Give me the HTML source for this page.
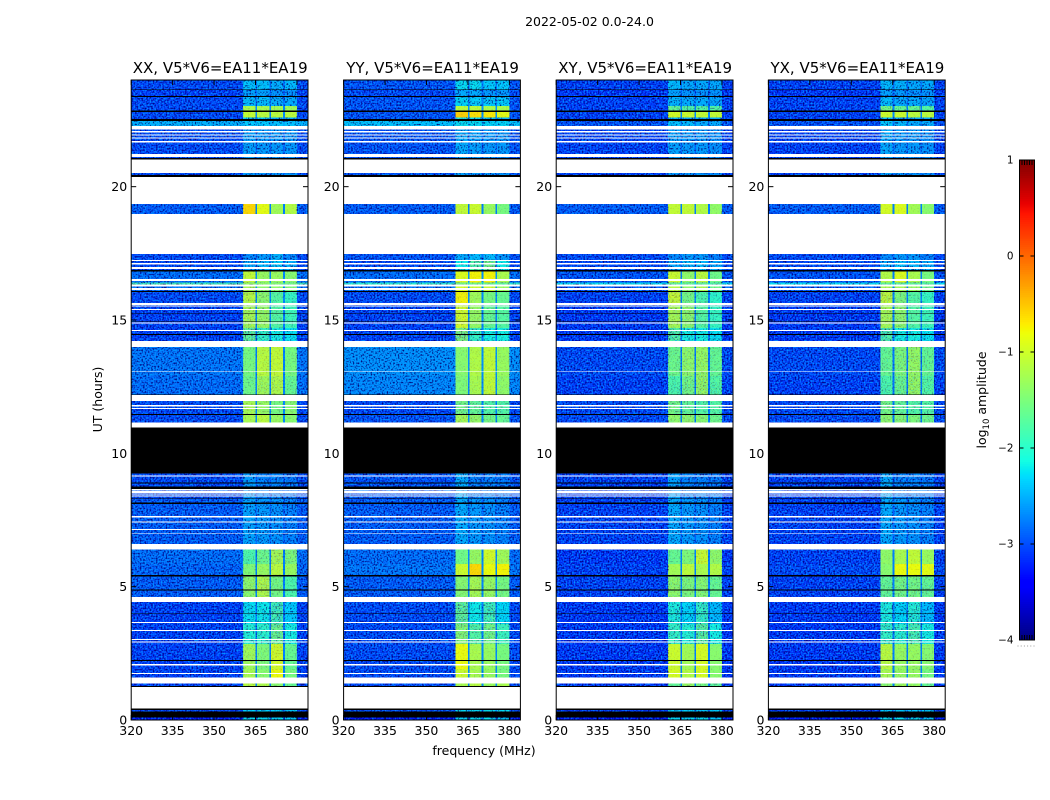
<!DOCTYPE html>
<html lang="en">
<head>
<meta charset="utf-8">
<title>2022-05-02 0.0-24.0</title>
<style>
  html, body { margin: 0; padding: 0; background: #fff; }
  svg { display: block; }
  text { font-family: "DejaVu Sans", "Liberation Sans", sans-serif; fill: #000; }
</style>
</head>
<body>
<svg id="figure" xmlns="http://www.w3.org/2000/svg" width="1050" height="800" viewBox="0 0 1050 800">
  <defs>
    <filter id="speckle" x="0" y="0" width="100%" height="100%" color-interpolation-filters="sRGB">
      <feTurbulence type="fractalNoise" baseFrequency="0.62" numOctaves="1" seed="7"/>
      <feColorMatrix type="matrix" values="0 0 0 1 0  0 0 0 1 0  0 0 0 1 0  0 0 0 1 0"/>
      <feComponentTransfer>
        <feFuncR type="table" tableValues="0 0"/>
        <feFuncG type="discrete" tableValues="0 0.62"/>
        <feFuncB type="discrete" tableValues="0.45 1"/>
        <feFuncA type="table" tableValues="0.9 0.9 0 0.9 0.9"/>
      </feComponentTransfer>
    </filter>
  </defs>
  <rect x="0" y="0" width="1050" height="800" fill="#fff"/>
  <text x="589.5" y="26" font-size="12.5" text-anchor="middle">2022-05-02 0.0-24.0</text>
  <text x="0" y="0" font-size="12.5" text-anchor="middle" transform="translate(102 399.5) rotate(-90)">UT (hours)</text>
  <text x="484" y="755" font-size="12.5" text-anchor="middle">frequency (MHz)</text>
  <text x="0" y="0" font-size="12.5" text-anchor="middle" transform="translate(986 400) rotate(-90)">log<tspan font-size="8.5" dy="3">10</tspan><tspan dy="-3"> amplitude</tspan></text>
  <g id="panels"></g>
  <g id="colorbar"></g>
</svg>
<script>
// ---- chart data (hours, MHz and log10 amplitude) ----
const panelNames = ['XX', 'YY', 'XY', 'YX'];
const titleSuffix = ', V5*V6=EA11*EA19';
const freqTicks = [320, 335, 350, 365, 380];
const hourTicks = [0, 5, 10, 15, 20];
const colorbarTicks = [-4, -3, -2, -1, 0, 1];
const channelEdges = [320, 360.5, 365, 365.6, 370, 370.6, 375, 375.6, 380, 384];

// Time boundaries of the scan blocks, latest first.
const blockEdges = [24, 23.62, 23.36, 23.025, 22.85, 22.59, 22.47, 22.275, 21.225, 20.37, 18.975, 17.25, 16.875, 16.41, 16.34, 16.05, 15.6, 14.7, 14.0, 12.9, 12.2, 11.45, 10.96, 9.25, 8.3, 6.4, 5.85, 5.4, 4.425, 3.6, 2.85, 1.9, 1.375, 0.375, 0.09, 0];

// One row per block: [background, spw1, spw2, spw3, spw4, spw gap]
const levelsXX = [
  [-3.05,-2.35,-2.35,-2.45,-2.4,-2.85],[-3.1,-2.55,-2.55,-2.65,-2.65,-2.95],[-3.05,-2.4,-2.4,-2.5,-2.5,-2.85],
  [-3.05,-1.2,-1.2,-1.25,-1.25,-2.7],[-3.05,-1.05,-1.1,-1.1,-1.1,-2.7],[-3.05,-2.25,-2.3,-2.45,-2.45,-2.85],
  [-2.45,-2.3,-2.3,-2.35,-2.35,-2.5],[-3.05,-2.55,-2.6,-2.6,-2.6,-2.9],[-3.05,-2.6,-2.65,-2.65,-2.65,-2.95],
  [-2.95,-0.6,-0.85,-1.25,-1.15,-2.75],[-3.05,-2.7,-2.6,-2.45,-2.7,-2.9],[-3.05,-2.5,-2.4,-2.3,-2.45,-2.9],
  [-2.85,-1.05,-1.3,-1.3,-1.4,-2.7],[-1.8,-1.3,-1.35,-1.4,-1.5,-1.8],[-2.85,-1.2,-1.35,-1.35,-1.45,-2.7],
  [-3.05,-1.1,-1.35,-1.7,-1.9,-2.7],[-3.1,-1.2,-1.3,-1.7,-1.85,-2.75],[-3.1,-1.6,-1.9,-2.1,-2.2,-2.8],
  [-2.8,-1.5,-1.1,-1.05,-1.5,-2.75],[-2.85,-1.55,-1.25,-1.15,-1.6,-2.75],[-3.05,-1.2,-1.3,-1.5,-1.4,-2.7],
  [-3.05,-1.2,-1.1,-1.3,-1.4,-2.7],[-3.05,-2.6,-2.75,-2.75,-2.8,-2.95],[-3.05,-2.6,-2.75,-2.75,-2.8,-2.95],
  [-2.95,-2.55,-2.6,-2.65,-2.75,-2.9],[-2.85,-1.75,-1.55,-1.2,-1.45,-2.75],[-2.9,-1.45,-1.3,-1.1,-1.3,-2.75],
  [-2.95,-1.35,-1.15,-1.5,-1.75,-2.75],[-3.1,-2.2,-2.15,-1.8,-2.3,-2.8],[-3.1,-2.0,-1.95,-1.55,-2.1,-2.8],
  [-3.1,-1.25,-1.45,-0.95,-1.6,-2.75],[-3.1,-1.2,-1.4,-0.8,-1.5,-2.75],[-3.1,-1.1,-1.15,-1.4,-1.6,-2.75],
  [-3.05,-2.3,-2.3,-2.3,-2.3,-2.85],[-3.3,-2.2,-2.2,-2.2,-2.3,-2.95]
];
const levelsYY = [
  [-3.0,-2.2,-2.2,-2.3,-2.3,-2.8],[-3.05,-2.5,-2.5,-2.6,-2.6,-2.9],[-3.0,-2.25,-2.3,-2.3,-2.3,-2.75],
  [-3.0,-1.1,-1.1,-1.2,-1.2,-2.65],[-3.0,-0.55,-0.65,-0.7,-0.85,-2.65],[-3.0,-2.05,-2.2,-2.3,-2.4,-2.75],
  [-2.35,-2.2,-2.2,-2.25,-2.25,-2.4],[-3.0,-2.5,-2.55,-2.6,-2.6,-2.9],[-3.0,-2.55,-2.6,-2.65,-2.65,-2.95],
  [-2.95,-1.05,-1.0,-1.3,-1.5,-2.75],[-3.0,-2.5,-2.4,-2.4,-2.6,-2.85],[-3.05,-2.15,-1.7,-1.5,-2.15,-2.85],
  [-2.85,-0.9,-0.75,-0.75,-1.2,-2.65],[-1.95,-1.5,-1.5,-1.5,-1.6,-1.95],[-2.85,-0.95,-1.0,-1.0,-1.3,-2.65],
  [-3.05,-0.75,-1.25,-1.5,-1.6,-2.7],[-3.1,-0.95,-1.3,-1.6,-1.7,-2.75],[-3.1,-1.4,-1.9,-2.1,-2.1,-2.8],
  [-2.65,-1.4,-1.15,-1.05,-1.3,-2.65],[-2.7,-1.45,-1.2,-1.05,-1.35,-2.7],[-3.05,-1.5,-1.6,-1.7,-1.7,-2.75],
  [-3.0,-1.2,-1.3,-1.5,-1.6,-2.7],[-3.0,-2.5,-2.75,-2.75,-2.8,-2.95],[-3.0,-2.5,-2.75,-2.75,-2.8,-2.95],
  [-2.95,-2.5,-2.6,-2.65,-2.75,-2.9],[-2.85,-1.55,-1.3,-0.95,-1.25,-2.7],[-2.8,-1.0,-0.6,-0.8,-0.75,-2.7],
  [-2.95,-1.4,-1.2,-1.3,-1.5,-2.7],[-3.05,-1.6,-2.15,-1.8,-2.25,-2.75],[-3.05,-1.4,-1.7,-1.5,-1.85,-2.75],
  [-3.05,-0.8,-1.2,-1.3,-1.5,-2.7],[-3.05,-1.0,-1.2,-1.3,-1.5,-2.7],[-3.05,-1.2,-1.1,-1.3,-1.2,-2.7],
  [-3.0,-2.2,-2.2,-2.2,-2.2,-2.8],[-3.3,-2.2,-2.2,-2.2,-2.3,-2.95]
];
const levelsXY = [
  [-3.1,-2.4,-2.5,-2.5,-2.5,-2.85],[-3.15,-2.55,-2.65,-2.65,-2.65,-2.95],[-3.1,-2.45,-2.5,-2.5,-2.55,-2.85],
  [-3.1,-1.6,-1.7,-1.7,-1.7,-2.75],[-3.1,-0.95,-1.0,-1.05,-1.05,-2.7],[-3.1,-2.4,-2.5,-2.5,-2.5,-2.85],
  [-3.0,-2.35,-2.4,-2.5,-2.5,-2.8],[-3.1,-2.55,-2.6,-2.6,-2.65,-2.9],[-3.1,-2.6,-2.65,-2.65,-2.7,-2.95],
  [-2.95,-1.05,-1.05,-1.15,-1.35,-2.75],[-3.05,-2.7,-2.6,-2.6,-2.75,-2.9],[-3.05,-2.5,-2.4,-2.4,-2.5,-2.9],
  [-3.0,-1.0,-1.35,-1.1,-1.55,-2.75],[-2.2,-1.6,-1.6,-1.6,-1.7,-2.2],[-3.0,-1.1,-1.35,-1.2,-1.55,-2.75],
  [-3.1,-1.0,-1.5,-1.75,-1.95,-2.75],[-3.15,-1.2,-1.35,-1.7,-1.9,-2.75],[-3.15,-1.7,-2.1,-2.1,-2.2,-2.8],
  [-3.05,-1.55,-1.35,-1.3,-1.6,-2.8],[-3.1,-1.75,-1.5,-1.3,-1.7,-2.8],[-3.05,-1.5,-1.6,-1.7,-1.7,-2.75],
  [-3.05,-1.35,-1.35,-1.4,-1.55,-2.75],[-3.1,-2.55,-2.75,-2.75,-2.8,-2.95],[-3.1,-2.55,-2.75,-2.75,-2.8,-2.95],
  [-3.1,-2.5,-2.6,-2.65,-2.75,-2.95],[-3.15,-1.6,-1.45,-1.0,-1.35,-2.75],[-3.1,-1.25,-1.1,-1.2,-1.15,-2.75],
  [-3.1,-1.35,-1.45,-1.4,-1.6,-2.75],[-3.15,-2.05,-2.25,-1.9,-2.4,-2.8],[-3.15,-1.9,-2.0,-1.65,-2.1,-2.8],
  [-3.15,-1.0,-1.25,-0.95,-1.4,-2.75],[-3.15,-0.95,-1.15,-0.95,-1.4,-2.75],[-3.15,-1.6,-1.3,-1.5,-1.65,-2.75],
  [-3.1,-2.3,-2.3,-2.3,-2.3,-2.85],[-3.3,-2.2,-2.2,-2.2,-2.3,-2.95]
];
const levelsYX = [
  [-3.1,-2.4,-2.45,-2.5,-2.5,-2.85],[-3.15,-2.55,-2.6,-2.65,-2.65,-2.95],[-3.1,-2.4,-2.5,-2.5,-2.55,-2.85],
  [-3.1,-1.5,-1.6,-1.6,-1.7,-2.75],[-3.1,-1.0,-1.0,-1.1,-1.1,-2.7],[-3.1,-2.35,-2.5,-2.5,-2.5,-2.85],
  [-3.0,-2.3,-2.4,-2.5,-2.5,-2.8],[-3.1,-2.5,-2.6,-2.6,-2.65,-2.9],[-3.1,-2.55,-2.65,-2.65,-2.7,-2.95],
  [-2.95,-0.95,-0.9,-1.25,-1.4,-2.75],[-3.05,-2.7,-2.6,-2.6,-2.75,-2.9],[-3.05,-2.5,-2.35,-2.4,-2.5,-2.9],
  [-3.0,-1.15,-0.9,-1.2,-1.5,-2.75],[-2.2,-1.6,-1.6,-1.6,-1.7,-2.2],[-3.0,-1.2,-1.2,-1.3,-1.55,-2.75],
  [-3.1,-1.05,-1.45,-1.7,-1.9,-2.75],[-3.15,-1.2,-1.35,-1.7,-1.85,-2.75],[-3.15,-1.7,-2.1,-2.1,-2.2,-2.8],
  [-3.05,-1.6,-1.45,-1.3,-1.6,-2.8],[-3.1,-1.75,-1.55,-1.3,-1.7,-2.8],[-3.05,-1.5,-1.6,-1.7,-1.7,-2.75],
  [-3.05,-1.35,-1.4,-1.45,-1.55,-2.75],[-3.1,-2.5,-2.75,-2.75,-2.8,-2.95],[-3.1,-2.5,-2.75,-2.75,-2.8,-2.95],
  [-3.1,-2.5,-2.6,-2.65,-2.75,-2.95],[-3.1,-1.35,-1.2,-1.05,-1.3,-2.75],[-3.05,-1.4,-0.8,-0.8,-0.85,-2.75],
  [-3.1,-1.6,-1.5,-1.5,-1.6,-2.75],[-3.15,-2.05,-2.25,-2.0,-2.4,-2.8],[-3.15,-1.9,-1.95,-1.75,-2.1,-2.8],
  [-3.15,-1.1,-1.3,-1.3,-1.4,-2.75],[-3.15,-1.2,-1.3,-1.3,-1.5,-2.75],[-3.15,-1.35,-1.25,-1.3,-1.6,-2.75],
  [-3.1,-2.3,-2.3,-2.3,-2.3,-2.85],[-3.3,-2.2,-2.2,-2.2,-2.3,-2.95]
];
const panelLevels = [levelsXX, levelsYY, levelsXY, levelsYX];

// Flagged (no data, drawn white) time ranges: [start hour, end hour]
const flaggedRanges = [
  [22.275,22.15],[22.08,22.04],[21.96,21.92],[21.85,21.80],[21.72,21.66],[21.225,21.12],[21.01,20.51],
  [20.37,19.35],[18.975,17.475],[17.25,17.21],[17.13,17.09],[16.99,16.91],[16.53,16.46],[16.34,16.25],
  [16.2,16.125],[15.63,15.57],[15.54,15.5],[15.41,15.375],[14.91,14.86],[14.625,14.59],[14.21,13.99],
  [13.09,13.06],[12.18,11.96],[11.81,11.75],[11.7,11.66],[11.15,10.96],[10.31,10.28],[10.16,10.125],
  [9.16,9.13],[8.67,8.6],[8.58,8.52],[8.5,8.45],[8.42,8.38],[7.65,7.59],[7.44,7.4],[7.16,7.125],
  [7.02,6.99],[6.6,6.4],[4.62,4.425],[3.675,3.64],[3.375,3.34],[3.04,3.0],[2.94,2.9],[2.1,2.05],
  [1.76,1.725],[1.6,1.375],[1.24,0.44]
];
// Zero-amplitude (drawn black) time ranges: [start hour, end hour]
const zeroRanges = [
  [23.64,23.62],[23.4,23.36],[22.85,22.8],[22.53,22.47],[21.075,21.01],[20.43,20.37],[16.875,16.81],
  [16.09,16.05],[15.27,15.24],[14.97,14.95],[14.475,14.44],[12.21,12.19],[11.475,11.44],[10.96,9.25],
  [8.91,8.86],[8.75,8.67],[8.31,8.29],[8.15,8.1],[5.43,5.39],[4.9,4.86],[4.0,3.975],[2.25,2.21],
  [1.275,1.24],[0.44,0.375],[0.325,0.09]
];

// ---- layout ----
const panelLefts = [131.2, 343.6, 556.2, 768.4];
const panelWidth = 176.8;
const panelTop = 80;
const panelBottom = 720;
const hourMax = 24;
const freqMin = 320;
const freqMax = 384;
const cbarLeft = 1019.5;
const cbarRight = 1034.5;
const cbarTop = 160;
const cbarBottom = 640;
const levelMin = -4;
const levelMax = 1;
const SVGNS = 'http://www.w3.org/2000/svg';

function yScale(hour) { return panelBottom - (hour / hourMax) * (panelBottom - panelTop); }
function xScale(freq, left) { return left + ((freq - freqMin) / (freqMax - freqMin)) * panelWidth; }
function cbarScale(level) { return cbarBottom - ((level - levelMin) / (levelMax - levelMin)) * (cbarBottom - cbarTop); }

function segment(t, knots) {
  for (let i = 1; i < knots.length; i++) {
    if (t <= knots[i][0]) {
      const a = knots[i - 1], b = knots[i];
      return a[1] + (b[1] - a[1]) * (t - a[0]) / (b[0] - a[0]);
    }
  }
  return knots[knots.length - 1][1];
}
function levelColor(level) {
  const t = Math.max(0, Math.min(1, (level - levelMin) / (levelMax - levelMin)));
  const r = segment(t, [[0, 0], [0.35, 0], [0.66, 1], [0.89, 1], [1, 0.5]]);
  const g = segment(t, [[0, 0], [0.125, 0], [0.375, 1], [0.64, 1], [0.91, 0], [1, 0]]);
  const b = segment(t, [[0, 0.5], [0.11, 1], [0.34, 1], [0.65, 0], [1, 0]]);
  return 'rgb(' + Math.round(r * 255) + ',' + Math.round(g * 255) + ',' + Math.round(b * 255) + ')';
}
function makeRect(parent, x, y, w, h, fill) {
  const r = document.createElementNS(SVGNS, 'rect');
  r.setAttribute('x', x);
  r.setAttribute('y', y);
  r.setAttribute('width', w);
  r.setAttribute('height', h);
  r.setAttribute('fill', fill);
  parent.appendChild(r);
  return r;
}
function makeLine(parent, x1, y1, x2, y2) {
  const l = document.createElementNS(SVGNS, 'line');
  l.setAttribute('x1', x1);
  l.setAttribute('y1', y1);
  l.setAttribute('x2', x2);
  l.setAttribute('y2', y2);
  l.setAttribute('stroke', '#000');
  l.setAttribute('stroke-width', '1');
  parent.appendChild(l);
  return l;
}
function makeText(parent, x, y, size, anchor, str) {
  const t = document.createElementNS(SVGNS, 'text');
  t.setAttribute('x', x);
  t.setAttribute('y', y);
  t.setAttribute('font-size', size);
  t.setAttribute('text-anchor', anchor);
  t.textContent = str;
  parent.appendChild(t);
  return t;
}

// Maps each frequency channel to its column in a levels row.
const channelColumns = [0, 1, 5, 2, 5, 3, 5, 4, 0];

const panelsRoot = document.getElementById('panels');
panelNames.forEach(function (name, p) {
  const left = panelLefts[p];
  const levels = panelLevels[p];
  const g = document.createElementNS(SVGNS, 'g');
  
  
  panelsRoot.appendChild(g);

  const cells = document.createElementNS(SVGNS, 'g');
  
  
  cells.setAttribute('shape-rendering', 'crispEdges');
  g.appendChild(cells);

  for (let b = 0; b < levels.length; b++) {
    const y0 = yScale(blockEdges[b]);
    const y1 = yScale(blockEdges[b + 1]);
    for (let c = 0; c < channelColumns.length; c++) {
      const x0 = xScale(channelEdges[c], left);
      const x1 = xScale(channelEdges[c + 1], left);
      const cell = makeRect(cells, x0, y0, x1 - x0, y1 - y0, levelColor(levels[b][channelColumns[c]]));
      
      
    }
  }

  // Cosmetic grain over the mean levels; carries no data.
  const bandLeft = xScale(channelEdges[1], left);
  const bandRight = xScale(channelEdges[8], left);
  const grainLow = makeRect(g, left, panelTop, bandLeft - left, panelBottom - panelTop, '#000');
  grainLow.setAttribute('filter', 'url(#speckle)');
  
  
  const grainHigh = makeRect(g, bandRight, panelTop, left + panelWidth - bandRight, panelBottom - panelTop, '#000');
  grainHigh.setAttribute('filter', 'url(#speckle)');
  
  
  for (let b = 0; b < levels.length; b++) {
    const y0 = yScale(blockEdges[b]);
    const y1 = yScale(blockEdges[b + 1]);
    const bandMean = (levels[b][1] + levels[b][2] + levels[b][3] + levels[b][4]) / 4;
    const grainStrength = Math.max(0.12, Math.min(1, (-1.0 - bandMean) / 1.3));
    const grainBand = makeRect(g, bandLeft, y0, bandRight - bandLeft, y1 - y0, '#000');
    grainBand.setAttribute('filter', 'url(#speckle)');
    grainBand.setAttribute('opacity', grainStrength.toFixed(2));
    
    
  }

  const gaps = document.createElementNS(SVGNS, 'g');
  
  
  gaps.setAttribute('shape-rendering', 'crispEdges');
  g.appendChild(gaps);
  flaggedRanges.forEach(function (range) {
    const r = makeRect(gaps, left, yScale(range[0]), panelWidth, yScale(range[1]) - yScale(range[0]), '#fff');
    
    
  });
  zeroRanges.forEach(function (range) {
    const r = makeRect(gaps, left, yScale(range[0]), panelWidth, yScale(range[1]) - yScale(range[0]), '#000');
    
    
  });

  const frame = makeRect(g, left, panelTop, panelWidth, panelBottom - panelTop, 'none');
  frame.setAttribute('stroke', '#000');
  frame.setAttribute('stroke-width', '1');
  
  

  freqTicks.forEach(function (f) {
    const x = xScale(f, left);
    const tickB = makeLine(g, x, panelBottom, x, panelBottom - 5);
    
    
    const tickT = makeLine(g, x, panelTop, x, panelTop + 5);
    
    
    const lab = makeText(g, x, 735, 12.5, 'middle', String(f));
    
    
  });
  hourTicks.forEach(function (h) {
    const y = yScale(h);
    const tickL = makeLine(g, left, y, left + 5, y);
    
    
    const tickR = makeLine(g, left + panelWidth, y, left + panelWidth - 5, y);
    
    
    const lab = makeText(g, left - 4, y + 4.5, 12.5, 'end', String(h));
    
    
  });
  const title = makeText(g, left + panelWidth / 2 + 0.6, 73, 15, 'middle', name + titleSuffix);
  
  
});

// ---- colorbar ----
const cbarRoot = document.getElementById('colorbar');
const ramp = document.createElementNS(SVGNS, 'g');


ramp.setAttribute('shape-rendering', 'crispEdges');
cbarRoot.appendChild(ramp);
for (let lv = levelMin; lv < levelMax; lv += 0.02) {
  const yTop = cbarScale(lv + 0.02);
  const step = makeRect(ramp, cbarLeft, yTop, cbarRight - cbarLeft, cbarScale(lv) - yTop + 0.5, levelColor(lv + 0.01));
  
  
}
const cbarFrame = makeRect(cbarRoot, cbarLeft, cbarTop, cbarRight - cbarLeft, cbarBottom - cbarTop, 'none');
cbarFrame.setAttribute('stroke', '#000');
cbarFrame.setAttribute('stroke-width', '1');


colorbarTicks.forEach(function (v) {
  const y = cbarScale(v);
  const a = makeLine(cbarRoot, cbarLeft, y, cbarLeft + 4, y);
  
  
  const c = makeLine(cbarRoot, cbarRight, y, cbarRight - 4, y);
  
  
  const lab = makeText(cbarRoot, cbarLeft - 6, y + 3.5, 10.4, 'end', String(v).replace('-', '\u2212'));
  
  
});
for (let i = 1; i < 6; i++) {
  const x = cbarLeft + (cbarRight - cbarLeft) * i / 6;
  const up = makeLine(cbarRoot, x, cbarTop, x, cbarTop + 5);
  
  
  const dn = makeLine(cbarRoot, x, cbarBottom, x, cbarBottom - 5);
  
  
}
for (let i = 0; i < 6; i++) {
  const dot = makeRect(cbarRoot, 1017.5 + i * 3.2, 645.5, 1, 1, '#999');
  
  
}
</script>
</body>
</html>
